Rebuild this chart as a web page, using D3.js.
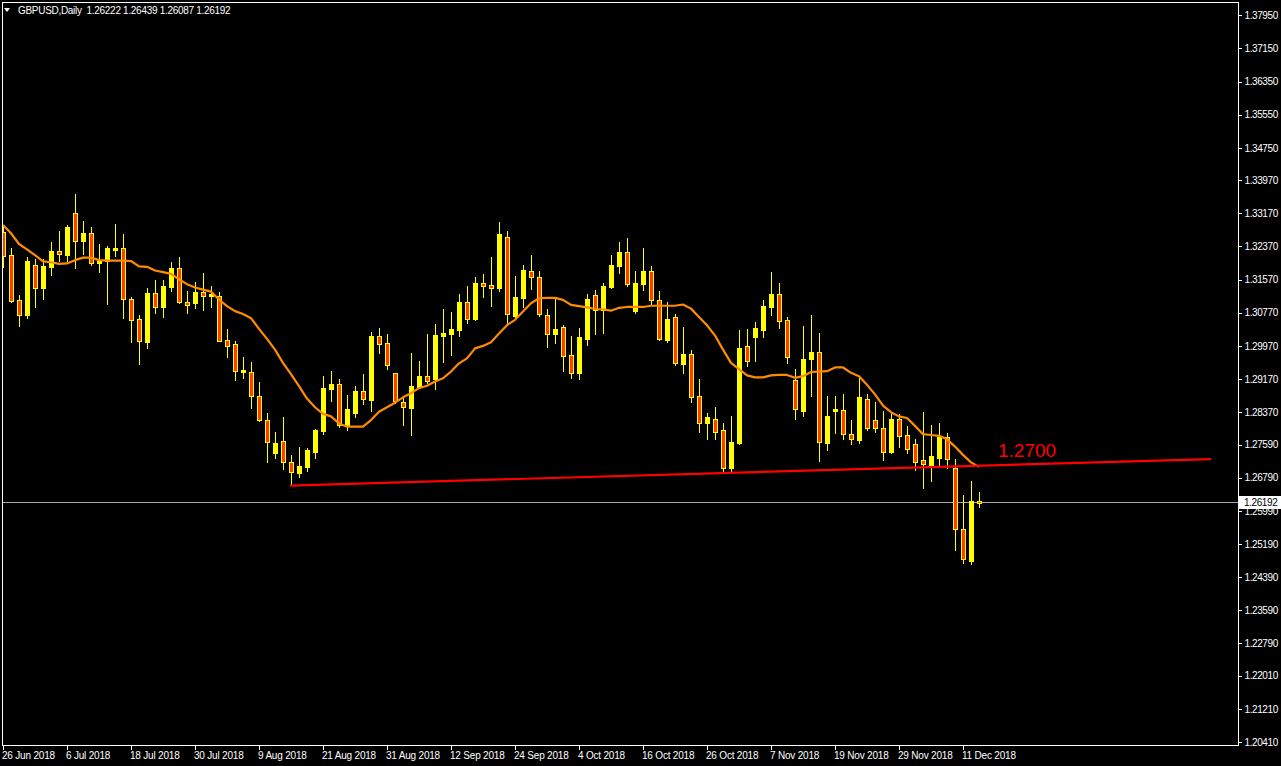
<!DOCTYPE html>
<html>
<head>
<meta charset="utf-8">
<script src="https://cdn.jsdelivr.net/npm/d3@7"></script>
<style>
  html, body { margin: 0; padding: 0; background: #000; }
  svg { display: block; }
  text { font-family: "Liberation Sans", Arial, sans-serif; }
</style>
</head>
<body>
<svg id="chart" width="1281" height="766"></svg>
<script>
// ---- DATA (GBPUSD daily, 26 Jun 2018 .. 13 Dec 2018) ----
const title = "GBPUSD,Daily  1.26222 1.26439 1.26087 1.26192";

const opens = [1.3273,1.3216,1.3107,1.3072,1.3192,1.3137,1.3188,1.3226,1.3217,1.3317,
1.3251,1.3269,1.3196,1.3202,1.3229,1.3233,1.3110,1.3061,1.3007,1.3125,
1.3092,1.3140,1.3185,1.3103,1.3101,1.3127,1.3117,1.3117,1.3011,1.3001,
1.2935,1.2933,1.2876,1.2818,1.2739,1.2767,1.2716,1.2691,1.2705,1.2742,
1.2792,1.2893,1.2905,1.2804,1.2836,1.2888,1.2867,1.3021,1.3003,1.2931,
1.2862,1.2848,1.2899,1.2924,1.2917,1.3022,1.3026,1.3036,1.3102,1.3063,
1.3149,1.3144,1.3137,1.3259,1.3069,1.3113,1.3179,1.3163,1.3071,1.3026,
1.3042,1.2974,1.2932,1.3014,1.3119,1.3084,1.3139,1.3190,1.3224,1.3081,
1.3146,1.3178,1.3109,1.3011,1.3066,1.2954,1.2977,1.2876,1.2810,1.2820,
1.2794,1.2702,1.2762,1.2996,1.3019,1.3036,1.3092,1.3122,1.3059,1.2914,
1.2840,1.2966,1.2982,1.2763,1.2840,1.2842,1.2784,1.2771,1.2870,1.2818,
1.2800,1.2740,1.2820,1.2781,1.2760,1.2722,1.2710,1.2727,1.2776,1.2702,
1.2554,1.2478,1.26222];
const highs = [1.3286,1.3233,1.3120,1.3212,1.3207,1.3207,1.3248,1.3274,1.3289,1.3364,
1.3299,1.3284,1.3242,1.3237,1.3291,1.3266,1.3115,1.3072,1.3136,1.3155,
1.3155,1.3199,1.3212,1.3130,1.3151,1.3173,1.3142,1.3126,1.3039,1.3009,
1.2970,1.2958,1.2909,1.2835,1.2789,1.2825,1.2734,1.2753,1.2751,1.2796,
1.2924,1.2936,1.2916,1.2878,1.2900,1.2929,1.3030,1.3040,1.3026,1.2932,
1.2873,1.2979,1.2961,1.3026,1.3050,1.3086,1.3079,1.3122,1.3142,1.3163,
1.3171,1.3212,1.3296,1.3274,1.3166,1.3192,1.3216,1.3178,1.3087,1.3112,
1.3047,1.3021,1.3040,1.3122,1.3132,1.3149,1.3216,1.3248,1.3257,1.3179,
1.3233,1.3190,1.3129,1.3102,1.3073,1.3042,1.2987,1.2917,1.2834,1.2850,
1.2811,1.2829,1.3035,1.3039,1.3055,1.3108,1.3175,1.3149,1.3067,1.2941,
1.3045,1.3072,1.3028,1.2876,1.2877,1.2881,1.2818,1.2920,1.2881,1.2862,
1.2839,1.2838,1.2833,1.2804,1.2772,1.2837,1.2806,1.2810,1.2787,1.2724,
1.2637,1.2671,1.26439];
const lows = [1.3188,1.3104,1.3046,1.3065,1.3092,1.3110,1.3168,1.3202,1.3202,1.3186,
1.3219,1.3193,1.3175,1.3099,1.3215,1.3065,1.3006,1.2954,1.2991,1.3077,
1.3068,1.3130,1.3100,1.3077,1.3088,1.3084,1.3092,1.3009,1.2971,1.2915,
1.2920,1.2848,1.2816,1.2717,1.2727,1.2701,1.2661,1.2681,1.2694,1.2727,
1.2785,1.2865,1.2802,1.2794,1.2826,1.2857,1.2840,1.2981,1.2942,1.2859,
1.2807,1.2783,1.2896,1.2907,1.2894,1.2959,1.2976,1.3022,1.3053,1.3060,
1.3116,1.3094,1.3130,1.3052,1.3067,1.3092,1.3135,1.3069,1.2995,1.3005,
1.2936,1.2920,1.2918,1.2999,1.3026,1.3029,1.3137,1.3173,1.3142,1.3076,
1.3132,1.3096,1.3011,1.3006,1.2952,1.2932,1.2862,1.2790,1.2773,1.2773,
1.2693,1.2696,1.2760,1.2949,1.2961,1.3019,1.3072,1.3041,1.2955,1.2821,
1.2829,1.2877,1.2720,1.2746,1.2787,1.2773,1.2761,1.2763,1.2795,1.2790,
1.2722,1.2739,1.2754,1.2738,1.2697,1.2655,1.2670,1.2705,1.2702,1.2504,
1.2474,1.2471,1.26087];
const closes = [1.3215,1.3106,1.3072,1.3202,1.3137,1.3190,1.3226,1.3220,1.3284,1.3251,
1.3270,1.3196,1.3202,1.3233,1.3233,1.3111,1.3060,1.3010,1.3125,1.3092,
1.3142,1.3185,1.3102,1.3095,1.3128,1.3117,1.3122,1.3010,1.2998,1.2937,
1.2939,1.2875,1.2818,1.2764,1.2763,1.2716,1.2692,1.2707,1.2745,1.2794,
1.2895,1.2905,1.2805,1.2845,1.2888,1.2868,1.3021,1.3002,1.2952,1.2865,
1.2850,1.2900,1.2924,1.2913,1.3023,1.3028,1.3038,1.3103,1.3063,1.3149,
1.3142,1.3137,1.3267,1.3073,1.3114,1.3180,1.3163,1.3073,1.3025,1.3038,
1.2973,1.2932,1.3018,1.3110,1.3084,1.3142,1.3192,1.3224,1.3147,1.3149,
1.3178,1.3109,1.3013,1.3062,1.2955,1.2977,1.2874,1.2810,1.2825,1.2789,
1.2702,1.2764,1.2992,1.2961,1.3040,1.3093,1.3122,1.3058,1.2971,1.2844,
1.2965,1.2982,1.2764,1.2828,1.2844,1.2784,1.2772,1.2874,1.2800,1.2800,
1.2740,1.2820,1.2779,1.2747,1.2718,1.2711,1.2731,1.2777,1.2723,1.2554,
1.2482,1.2623,1.26192];
// orange moving-average line
const maValues = [1.3289,1.3269,1.3243,1.3230,1.3216,1.3201,1.3199,1.3195,1.3196,1.3204,
1.3210,1.3210,1.3204,1.3203,1.3203,1.3203,1.3202,1.3189,1.3188,1.3179,
1.3175,1.3171,1.3158,1.3146,1.3138,1.3133,1.3128,1.3109,1.3093,1.3081,
1.3074,1.3064,1.3038,1.3014,1.2988,1.2956,1.2929,1.2900,1.2870,1.2849,
1.2833,1.2827,1.2810,1.2802,1.2802,1.2802,1.2818,1.2838,1.2849,1.2860,
1.2873,1.2883,1.2895,1.2901,1.2911,1.2919,1.2935,1.2955,1.2967,1.2991,
1.2997,1.3006,1.3027,1.3047,1.3060,1.3080,1.3100,1.3112,1.3113,1.3113,
1.3108,1.3096,1.3093,1.3090,1.3086,1.3085,1.3082,1.3089,1.3091,1.3091,
1.3091,1.3094,1.3094,1.3094,1.3094,1.3097,1.3087,1.3067,1.3047,1.3022,
1.2988,1.2956,1.2941,1.2926,1.2921,1.2921,1.2926,1.2927,1.2927,1.2920,
1.2924,1.2934,1.2935,1.2936,1.2945,1.2945,1.2932,1.2924,1.2903,1.2880,
1.2853,1.2837,1.2827,1.2823,1.2804,1.2784,1.2782,1.2780,1.2772,1.2754,
1.2734,1.2716,1.2705];
// support trend line (bar index, price)
const trendIdx = [36, 151];
const trendPrice = [1.2660, 1.2724];
const trendLabel = "1.2700";
const currentPrice = 1.26192;
const currentPriceLabel = "1.26192";
// x-axis labels (one every 8 bars)
const xTickLabels = ["26 Jun 2018","6 Jul 2018","18 Jul 2018","30 Jul 2018","9 Aug 2018",
"21 Aug 2018","31 Aug 2018","12 Sep 2018","24 Sep 2018","4 Oct 2018","16 Oct 2018",
"26 Oct 2018","7 Nov 2018","19 Nov 2018","29 Nov 2018","11 Dec 2018"];
// y-axis labels
const yTickLabels = ["1.37950","1.37150","1.36350","1.35550","1.34750","1.33970","1.33170",
"1.32370","1.31570","1.30770","1.29970","1.29170","1.28370","1.27590","1.26790","1.25990",
"1.25190","1.24390","1.23590","1.22790","1.22010","1.21210","1.20410"];

// ---- LAYOUT ----
const W = 1281, H = 766;
const plot = { left: 2, right: 1238, top: 2, bottom: 746 };
const barStep = 8;
const FONT = "'Liberation Sans', Arial, sans-serif";
const svg = d3.select("#chart");
svg.append("rect").attr("width", W).attr("height", H).attr("fill", "#000");

const x = d3.scaleLinear().domain([-0.125, 154.25]).range([plot.left, plot.right - 1]);
const y = d3.scaleLinear().domain([1.20410, 1.37950]).range([742, 15.3]);

svg.append("clipPath").attr("id", "clip").append("rect")
  .attr("x", plot.left + 1).attr("y", plot.top + 1)
  .attr("width", plot.right - plot.left - 1).attr("height", plot.bottom - plot.top - 1);

const g = svg.append("g").attr("clip-path", "url(#clip)");

const bars = opens.map((o, i) => ({ i, o, h: highs[i], l: lows[i], c: closes[i] }));
const cx = d => Math.round(x(d.i));

// current price line
g.append("line")
  .attr("x1", plot.left).attr("x2", plot.right)
  .attr("y1", Math.round(y(currentPrice)) + 0.5).attr("y2", Math.round(y(currentPrice)) + 0.5)
  .attr("stroke", "#a8a8a8").attr("stroke-width", 1);

// wicks
g.selectAll("line.wick").data(bars).join("line").attr("class", "wick")
  .attr("x1", d => cx(d) + 0.5).attr("x2", d => cx(d) + 0.5)
  .attr("y1", d => Math.round(y(d.h))).attr("y2", d => Math.round(y(d.l)) + 1)
  .attr("stroke", "#ffff00").attr("stroke-width", 1).attr("shape-rendering", "crispEdges");

// bull bodies
g.selectAll("rect.bull").data(bars.filter(d => d.c >= d.o)).join("rect").attr("class", "bull")
  .attr("x", d => cx(d) - 2).attr("width", 5)
  .attr("y", d => Math.round(y(d.c)))
  .attr("height", d => Math.max(2, Math.round(y(d.o)) - Math.round(y(d.c)) + 1))
  .attr("fill", "#ffff00").attr("shape-rendering", "crispEdges");

// bear bodies
g.selectAll("rect.bear").data(bars.filter(d => d.c < d.o)).join("rect").attr("class", "bear")
  .attr("x", d => cx(d) - 1.5).attr("width", 4)
  .attr("y", d => Math.round(y(d.o)) + 0.5)
  .attr("height", d => Math.max(2, Math.round(y(d.c)) - Math.round(y(d.o))))
  .attr("fill", "#ff3c00").attr("stroke", "#ffff00").attr("stroke-width", 1)
  .attr("shape-rendering", "crispEdges");

// moving average
g.append("path").datum(maValues)
  .attr("d", d3.line().x((v, i) => x(i)).y(v => y(v)))
  .attr("fill", "none").attr("stroke", "#ff8c00").attr("stroke-width", 2.2)
  .attr("stroke-linejoin", "round");

// trend line
g.append("line")
  .attr("x1", x(trendIdx[0]) - 1).attr("y1", y(trendPrice[0]))
  .attr("x2", x(trendIdx[1])).attr("y2", y(trendPrice[1]))
  .attr("stroke", "#ff0000").attr("stroke-width", 2.2);

svg.append("text").attr("x", 998).attr("y", 457)
  .style("font-family", FONT)
  .attr("font-size", 19).attr("fill", "#ff0000").text(trendLabel);

// frame
svg.append("rect")
  .attr("x", plot.left + 0.5).attr("y", plot.top + 0.5)
  .attr("width", plot.right - plot.left).attr("height", plot.bottom - plot.top - 1)
  .attr("fill", "none").attr("stroke", "#ffffff").attr("stroke-width", 1)
  .attr("shape-rendering", "crispEdges");

// y axis
const yAxis = d3.axisRight(y)
  .tickValues(yTickLabels.map(Number))
  .tickFormat((v, k) => yTickLabels[k])
  .tickSize(3).tickPadding(3);
const ya = svg.append("g").attr("transform", `translate(${plot.right + 0.5},0)`).call(yAxis);
ya.select(".domain").remove();
ya.selectAll(".tick line").attr("stroke", "#fff").attr("shape-rendering", "crispEdges");
ya.selectAll(".tick text").attr("fill", "#fff").attr("font-size", 10)
  .style("font-family", FONT).style("letter-spacing", "-0.4px");

// x axis
const xTickIdx = xTickLabels.map((_, k) => k * barStep);
const xAxis = d3.axisBottom(x)
  .tickValues(xTickIdx)
  .tickFormat((v, k) => xTickLabels[k])
  .tickSize(4).tickPadding(2);
const xa = svg.append("g").attr("transform", `translate(0,${plot.bottom - 0.5})`).call(xAxis);
xa.select(".domain").remove();
xa.selectAll(".tick").attr("transform", d => `translate(${Math.round(x(d)) + 0.5},0)`);
xa.selectAll(".tick line").attr("stroke", "#fff").attr("shape-rendering", "crispEdges");
xa.selectAll(".tick text").attr("fill", "#fff").attr("font-size", 10)
  .attr("text-anchor", "start").attr("x", -1.5)
  .style("font-family", FONT).style("letter-spacing", "-0.2px");

// current price label on axis
const yp = Math.round(y(currentPrice));
svg.append("rect").attr("x", plot.right + 1).attr("y", yp - 6).attr("width", W - plot.right - 1).attr("height", 13)
  .attr("fill", "#ffffff");
svg.append("text").attr("x", plot.right + 6).attr("y", yp + 0.5).attr("dy", "0.35em")
  .attr("font-size", 10).style("letter-spacing", "-0.4px").attr("fill", "#000").text(currentPriceLabel);

// title
svg.append("path").attr("d", "M4,8 L10,8 L7,12 Z").attr("fill", "#fff");
svg.append("text").attr("x", 18).attr("y", 14).attr("font-size", 10).attr("fill", "#fff")
  .style("letter-spacing", "-0.3px")
  .attr("xml:space", "preserve").style("white-space", "pre").text(title);
</script>
</body>
</html>
